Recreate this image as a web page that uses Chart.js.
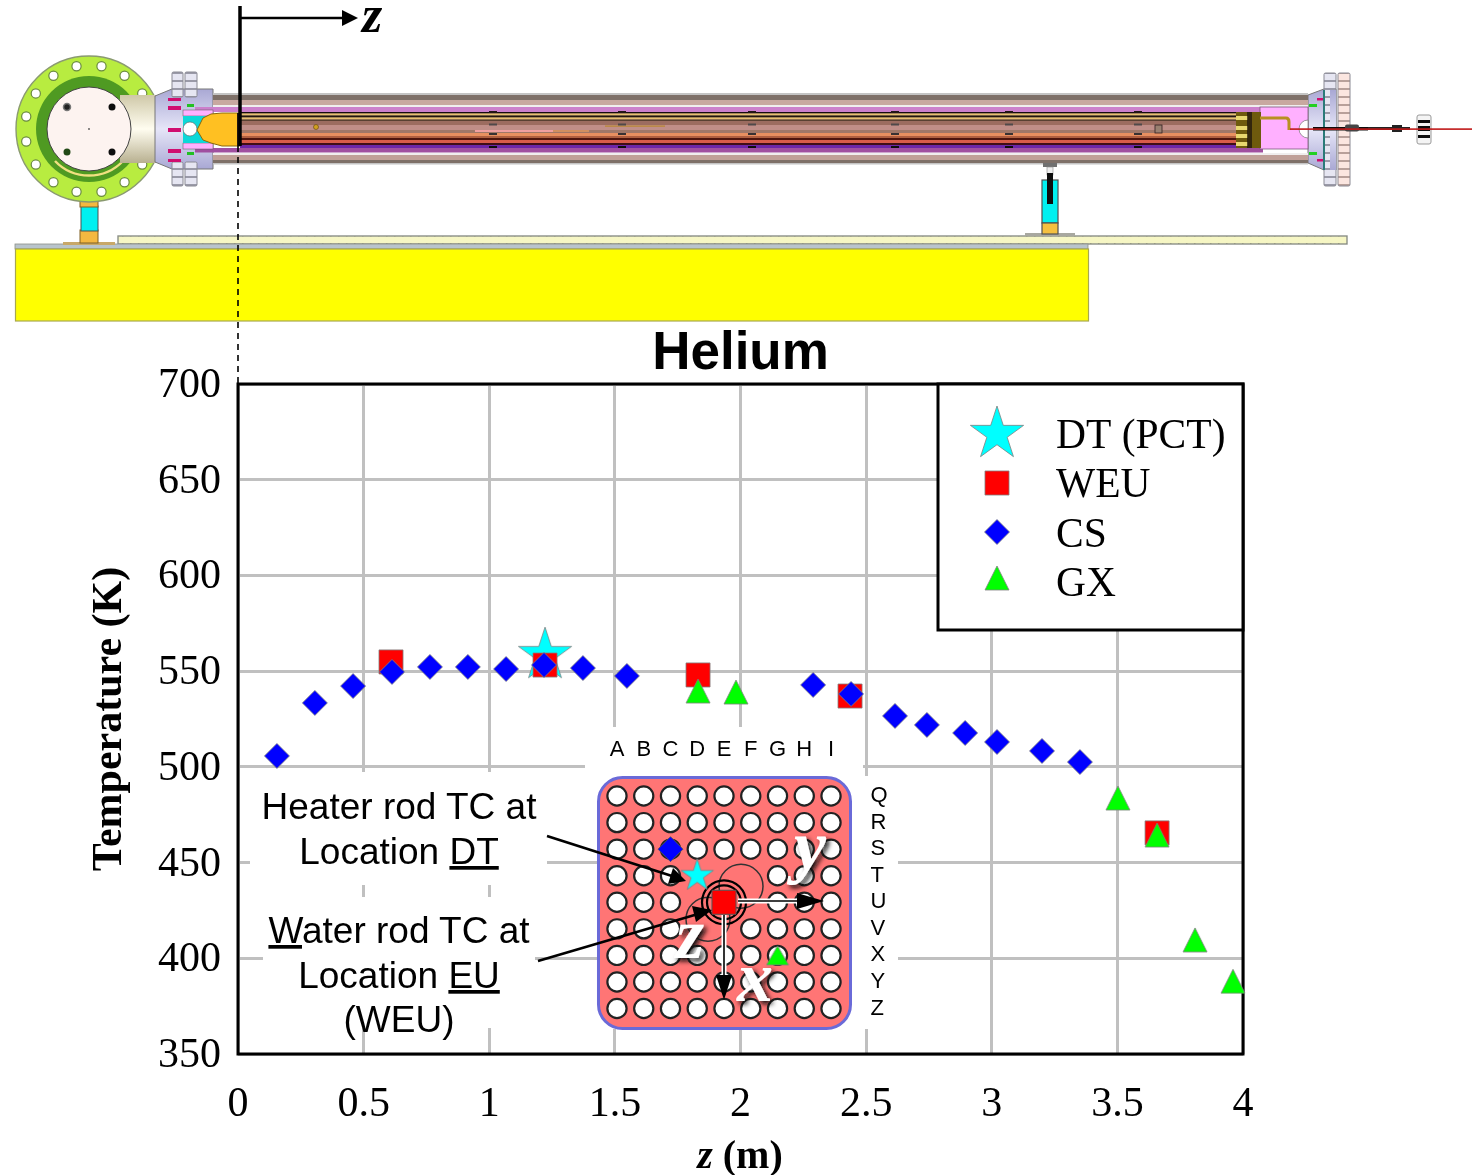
<!DOCTYPE html>
<html>
<head>
<meta charset="utf-8">
<title>Helium</title>
<script src="https://cdn.jsdelivr.net/npm/chart.js@4"></script>
<style>
  html, body { margin: 0; padding: 0; background: #fff; }
  #page { position: relative; width: 1475px; height: 1175px; overflow: hidden; }
  #page canvas, #page svg { position: absolute; display: block; }
  #mainChart { left: 0; top: 0; }
  #insetChart { left: 585px; top: 727px; }
  #overlay, #rig { left: 0; top: 0; }
</style>
</head>
<body>
<div id="page">
  <!-- facility drawing above the plot -->
  <svg id="rig" width="1475" height="384">
    <defs>
      <filter id="soft"><feGaussianBlur stdDeviation="0.45"/></filter>
      <linearGradient id="cream" x1="0" y1="0" x2="0" y2="1">
        <stop offset="0" stop-color="#cfc8a8"/><stop offset="0.5" stop-color="#fffdf0"/><stop offset="1" stop-color="#b8b090"/>
      </linearGradient>
      <linearGradient id="hub" x1="0" y1="0" x2="0" y2="1">
        <stop offset="0" stop-color="#a9a8d4"/><stop offset="0.5" stop-color="#e6e6f8"/><stop offset="1" stop-color="#a9a8d4"/>
      </linearGradient>
      <pattern id="flangeA" width="12" height="8" patternUnits="userSpaceOnUse">
        <rect width="12" height="8" fill="#e6e6f2"/><rect width="12" height="2" fill="#9a9aa8"/>
      </pattern>
      <pattern id="flangeB" width="12" height="8" patternUnits="userSpaceOnUse">
        <rect width="12" height="8" fill="#fbe6e0"/><rect width="12" height="2" fill="#b8a09a"/>
      </pattern>
      <pattern id="railDots" width="8" height="8" patternUnits="userSpaceOnUse">
        <rect width="8" height="8" fill="#f6f6c4"/><rect x="2" y="3" width="1.5" height="1.5" fill="#a8a878"/>
      </pattern>
    </defs>
    <g filter="url(#soft)">
      <!-- slab and rail -->
      <rect x="118" y="236" width="1229" height="8" fill="url(#railDots)" stroke="#8c9088" stroke-width="1.4"/>
      <rect x="15" y="244" width="1073" height="5" fill="#b9c4cc" stroke="#8c9088" stroke-width="0.8"/>
      <rect x="15.5" y="249" width="1073" height="72" fill="#ffff00" stroke="#a8a850" stroke-width="1.2"/>

      <!-- left support -->
      <rect x="63" y="242" width="52" height="3" fill="#c8a868"/>
      <rect x="80" y="230" width="18" height="13" fill="#f4b840" stroke="#806020"/>
      <rect x="81" y="206" width="17" height="25" fill="#00f0f0" stroke="#505050"/>
      <rect x="80" y="195" width="18" height="12" fill="#f4b840" stroke="#806020"/>
      <rect x="85" y="182" width="8" height="13" fill="#c89020" stroke="#403010"/>

      <!-- end flange -->
      <circle cx="89" cy="129" r="73" fill="#b8ec40" stroke="#8a9a70" stroke-width="1.4"/>
      <g id="boltHoles"></g>
      <circle cx="89" cy="129" r="53" fill="#4f9a22"/>
      <path d="M55 161 A47 47 0 0 0 123 161" fill="none" stroke="#f0e080" stroke-width="2.5"/>
      <rect x="120" y="95" width="36" height="68" fill="url(#cream)"/>
      <circle cx="89" cy="129" r="42" fill="#fdf3f0" stroke="#444" stroke-width="1"/>
      <circle cx="67" cy="107" r="3.5" fill="#222" stroke="#777" stroke-width="1.5"/>
      <circle cx="112" cy="107" r="3.5" fill="#111"/>
      <circle cx="67" cy="152" r="3.5" fill="#244a18"/>
      <circle cx="112" cy="152" r="3.5" fill="#111"/>
      <circle cx="89" cy="129" r="0.9" fill="#555"/>

      <!-- left hub -->
      <path d="M155 96 L172 89 H213 V169 H172 L155 162 Z" fill="url(#hub)" stroke="#777" stroke-width="1"/>
      <rect x="172" y="72" width="11" height="25" rx="1.5" fill="url(#flangeA)" stroke="#8a8a94"/>
      <rect x="185" y="72" width="12" height="25" rx="1.5" fill="url(#flangeA)" stroke="#8a8a94"/>
      <rect x="172" y="162" width="11" height="24" rx="1.5" fill="url(#flangeA)" stroke="#8a8a94"/>
      <rect x="185" y="162" width="12" height="24" rx="1.5" fill="url(#flangeA)" stroke="#8a8a94"/>
      <rect x="168" y="98" width="13" height="3" fill="#d01070"/>
      <rect x="168" y="106" width="13" height="4" fill="#d01070"/>
      <rect x="168" y="128" width="13" height="4" fill="#d01070"/>
      <rect x="168" y="149" width="13" height="4" fill="#d01070"/>
      <rect x="168" y="159" width="13" height="3" fill="#d01070"/>
      <rect x="187" y="104" width="7" height="3" fill="#20c020"/>
      <rect x="187" y="152" width="7" height="3" fill="#20c020"/>

      <!-- right hub -->
      <path d="M1308 95 L1324 89 H1336 V170 H1324 L1308 163 Z" fill="url(#hub)" stroke="#777" stroke-width="1"/>
      <rect x="1324" y="73" width="12" height="113" rx="1.5" fill="url(#flangeA)" stroke="#8a8a94"/>
      <rect x="1338" y="73" width="12" height="113" rx="1.5" fill="url(#flangeB)" stroke="#8a8a94"/>
      <rect x="1330" y="90" width="6" height="80" fill="url(#hub)"/>
      <rect x="1323" y="90" width="2" height="80" fill="#2a7a78"/>
      <rect x="1309" y="104" width="8" height="3" fill="#20d020"/>
      <rect x="1309" y="152" width="8" height="3" fill="#20d020"/>
      <rect x="1317" y="98" width="6" height="2.5" fill="#d01070"/>
      <rect x="1317" y="159" width="6" height="2.5" fill="#d01070"/>

      <!-- outer tube -->
      <rect x="213" y="93" width="1095" height="2" fill="#c4c4c4"/>
      <rect x="213" y="95" width="1095" height="5" fill="#7e6f68"/>
      <rect x="213" y="100" width="1095" height="5" fill="#c8a8a0"/>
      <rect x="213" y="105" width="1095" height="2" fill="#f0eeee"/>
      <rect x="213" y="153" width="1095" height="2" fill="#f0eeee"/>
      <rect x="213" y="155" width="1095" height="5" fill="#c0a098"/>
      <rect x="213" y="160" width="1095" height="3" fill="#7e6f68"/>
      <rect x="213" y="163" width="1095" height="1.5" fill="#c4c4c4"/>

      <!-- liner and rod bundle -->
      <rect x="195" y="107" width="1068" height="5" fill="#cc80cc"/>
      <rect x="195" y="148" width="1068" height="4.5" fill="#a050a0"/>
      <rect x="240" y="112" width="1000" height="36" fill="#a08078"/>
      <rect x="240" y="112" width="1000" height="1.5" fill="#181010"/>
      <rect x="240" y="113.5" width="1000" height="2" fill="#e8c070"/>
      <rect x="240" y="115.5" width="1000" height="2" fill="#201810"/>
      <rect x="240" y="117.5" width="1000" height="2" fill="#e8c070"/>
      <rect x="240" y="119.5" width="1000" height="1.5" fill="#584030"/>
      <rect x="240" y="121" width="1000" height="4" fill="#9c6c60"/>
      <rect x="240" y="125" width="1000" height="5" fill="#c08e88"/>
      <rect x="240" y="130" width="1000" height="3" fill="#a07868"/>
      <rect x="240" y="133" width="1000" height="3" fill="#e89060"/>
      <rect x="240" y="136" width="1000" height="2" fill="#b06040"/>
      <rect x="240" y="138" width="1000" height="2" fill="#501810"/>
      <rect x="240" y="140" width="1000" height="3" fill="#d85c48"/>
      <rect x="240" y="143" width="1000" height="2" fill="#401018"/>
      <rect x="240" y="145" width="1000" height="3" fill="#6c28a8"/>
      <rect x="475" y="130" width="78" height="2" fill="#f0a0a0"/>
      <rect x="553" y="130" width="36" height="2" fill="#d09060"/>
      <rect x="605" y="125.500" width="60" height="1.200" fill="#b88830"/>
      <g id="spacers"></g>

      <!-- left fitting -->
      <rect x="183" y="110" width="30" height="6" fill="#ffb0ff" stroke="#555" stroke-width="0.5"/>
      <rect x="183" y="143" width="30" height="6" fill="#ffb0ff" stroke="#555" stroke-width="0.5"/>
      <rect x="183" y="116" width="28" height="27" fill="#10d8d8"/>
      <circle cx="190" cy="129" r="7" fill="#fff" stroke="#555" stroke-width="0.6"/>
      <path d="M197 130 L203 118 L211 114 L222 113 H240 V146 H222 L211 143 L203 140 Z" fill="#ffc020" stroke="#8a6810" stroke-width="1"/>
      <rect x="237" y="113" width="3" height="33" fill="#201808"/>
      <circle cx="316" cy="127" r="2.5" fill="#d0a020" stroke="#604010" stroke-width="0.6"/>

      <!-- right fitting -->
      <rect x="1260" y="107" width="48" height="42" fill="#ffb0ff" stroke="#7a5a7a" stroke-width="0.8"/>
      <path d="M1299 129 A9 9 0 0 1 1308 120 V138 A9 9 0 0 1 1299 129" fill="#fff" stroke="#777" stroke-width="0.7"/>
      <rect x="1236" y="112" width="25" height="36" fill="#6e5a10"/>
      <rect x="1236" y="116" width="12" height="4" fill="#e8d870"/>
      <rect x="1236" y="126" width="12" height="4" fill="#e8d870"/>
      <rect x="1236" y="134" width="12" height="4" fill="#e8d870"/>
      <rect x="1236" y="142" width="12" height="4" fill="#e8d870"/>
      <rect x="1247" y="112" width="5" height="36" fill="#181008" opacity="0.7"/>
      <path d="M1260 118 H1286 Q1289 118 1289 122 V130" fill="none" stroke="#b89020" stroke-width="3"/>
      <rect x="1155" y="125" width="7" height="8" fill="#9a8070" stroke="#302020" stroke-width="0.8"/>
      <rect x="1313" y="127" width="55" height="3.5" fill="#111"/>
      <rect x="1345" y="124.500" width="14" height="7" rx="2" fill="#444"/>
      <rect x="1368" y="127" width="42" height="3" fill="#222"/>
      <rect x="1392" y="125" width="10" height="7" fill="#222"/>
      <rect x="1417" y="115" width="14" height="29" rx="2" fill="#f4f4f4" stroke="#999"/>
      <rect x="1418" y="120" width="12" height="3" fill="#111"/>
      <rect x="1418" y="126" width="12" height="5" fill="#111"/>
      <rect x="1418" y="135" width="12" height="3" fill="#111"/>
      <rect x="1290" y="128.300" width="182" height="1.600" fill="#c01818"/>

      <!-- right support -->
      <rect x="1025" y="233" width="50" height="3" fill="#a8a8a0"/>
      <rect x="1043" y="163" width="14" height="4" fill="#707070"/>
      <rect x="1047" y="167" width="6" height="8" fill="#eee" stroke="#888" stroke-width="0.6"/>
      <rect x="1042" y="180" width="16" height="43" fill="#00f0f0" stroke="#505050" stroke-width="1.2"/>
      <rect x="1042" y="223" width="16" height="11" fill="#f4c040" stroke="#505050" stroke-width="1.2"/>
      <rect x="1047" y="173" width="6" height="31" fill="#0c0c0c"/>
    </g>

    <!-- z datum -->
    <line x1="240" y1="6" x2="240" y2="146" stroke="#000" stroke-width="3.5"/>
    <line x1="240" y1="18" x2="345" y2="18" stroke="#000" stroke-width="2.5"/>
    <polygon points="342,10 358,18 342,26" fill="#000"/>
    <line x1="238" y1="146" x2="238" y2="384" stroke="#000" stroke-width="1.6" stroke-dasharray="6,5"/>
    <text x="372" y="32" text-anchor="middle" font-family="Liberation Serif" font-style="italic" font-weight="bold" font-size="52">z</text>
  </svg>

  <canvas id="mainChart" width="1475" height="1175"></canvas>
  <canvas id="insetChart" width="320" height="326"></canvas>

  <!-- callouts drawn above both charts -->
  <svg id="overlay" width="1475" height="1175">
    <defs>
      <filter id="glow" x="-40%" y="-40%" width="180%" height="180%">
        <feDropShadow dx="3" dy="3" stdDeviation="2.5" flood-color="#111" flood-opacity="1"/>
      </filter>
    </defs>
    <g font-family="Liberation Sans" font-size="37" text-anchor="middle" fill="#000">
      <text x="399" y="819">Heater rod TC at</text>
      <text x="399" y="864">Location <tspan text-decoration="underline">DT</tspan></text>
      <text x="399" y="943"><tspan text-decoration="underline">W</tspan>ater rod TC at</text>
      <text x="399" y="988">Location <tspan text-decoration="underline">EU</tspan></text>
      <text x="399" y="1032">(WEU)</text>
    </g>
    <text x="740" y="1168" text-anchor="middle" font-family="Liberation Serif" font-weight="bold" font-size="40"><tspan font-style="italic">z</tspan> (m)</text>

    <!-- leader lines into the rod map -->
    <line x1="547" y1="836" x2="672" y2="876" stroke="#000" stroke-width="2.6"/>
    <polygon points="686,881 668,884 673,868" fill="#000"/>
    <line x1="538" y1="961" x2="698" y2="914" stroke="#000" stroke-width="2.6"/>
    <polygon points="712,910 696,922 692,906" fill="#000"/>

    <!-- x and y axes on the rod map -->
    <line x1="738" y1="901" x2="800" y2="901" stroke="#fff" stroke-width="5"/>
    <line x1="738" y1="901" x2="800" y2="901" stroke="#000" stroke-width="1.6"/>
    <polygon points="797,893 824,901 797,909" fill="#000"/>
    <line x1="724" y1="915" x2="724" y2="978" stroke="#fff" stroke-width="5"/>
    <line x1="724" y1="915" x2="724" y2="978" stroke="#000" stroke-width="1.6"/>
    <polygon points="716,975 724,1000 732,975" fill="#000"/>
    <g font-family="Liberation Serif" font-style="italic" font-weight="bold" font-size="72" fill="#fff" text-anchor="middle" filter="url(#glow)">
      <text x="810" y="870">y</text>
      <text x="690" y="958">z</text>
      <text x="755" y="1001">x</text>
    </g>
  </svg>
</div>

<script>
// ************* main plot values
var csZ = [0.155, 0.306, 0.458, 0.613, 0.764, 0.915, 1.067, 1.218, 1.373, 1.548, 2.289, 2.44, 2.615, 2.742, 2.894, 3.021, 3.2, 3.351];
var csT = [505.7, 533.4, 542.2, 549.6, 552.2, 552.2, 551.1, 553.2, 551.6, 547.5, 542.8, 538.1, 526.6, 521.9, 517.7, 513, 508.3, 502.5];
var weuZ = [0.609, 1.222, 1.831, 2.436, 3.658];
var weuT = [554.8, 553.2, 548, 537, 465.5];
var gxZ = [1.831, 1.982, 3.502, 3.658, 3.809, 3.96];
var gxT = [539.6, 539.1, 483.7, 464.4, 409.6, 388];
var dtZ = [1.222];
var dtT = [558.4];

// ************* rod map categories
var rodCols = ['A', 'B', 'C', 'D', 'E', 'F', 'G', 'H', 'I'];
var rodRows = ['Q', 'R', 'S', 'T', 'U', 'V', 'X', 'Y', 'Z'];
var rodGaps = ['D-T', 'E-T', 'F-T', 'D-U', 'E-U', 'F-U', 'D-V', 'E-V'];
var heaterCell = { x: 'D', y: 'T' };
var waterCell = { x: 'E', y: 'U' };
var csCell = { x: 'C', y: 'S' };
var gxCell = { x: 'G', y: 'X' };

function toPoints(xs, ys) {
  return xs.map(function (x, i) { return { x: x, y: ys[i] }; });
}

// ************* marker shapes Chart.js does not have
function starMark(R) {
  var pad = 2, size = Math.ceil(2 * R + 2 * pad);
  var c = document.createElement('canvas');
  c.width = size; c.height = size;
  var g = c.getContext('2d');
  g.translate(size / 2, size / 2);
  g.beginPath();
  for (var i = 0; i < 10; i++) {
    var r = i % 2 ? R * 0.382 : R;
    var a = -Math.PI / 2 + i * Math.PI / 5;
    g.lineTo(r * Math.cos(a), r * Math.sin(a));
  }
  g.closePath();
  g.fillStyle = '#00ffff';
  g.fill();
  g.lineWidth = 0.8;
  g.strokeStyle = '#808080';
  g.stroke();
  return c;
}

function triangleMark(w, h) {
  var c = document.createElement('canvas');
  c.width = w + 2; c.height = h + 2;
  var g = c.getContext('2d');
  g.beginPath();
  g.moveTo(1 + w / 2, 1);
  g.lineTo(1 + w, 1 + h);
  g.lineTo(1, 1 + h);
  g.closePath();
  g.fillStyle = '#00ff00';
  g.fill();
  g.lineWidth = 0.8;
  g.strokeStyle = '#808080';
  g.stroke();
  return c;
}

var bigStar = starMark(28);
var bigTriangle = triangleMark(24, 24);

// ************* white patches under the callouts + frame
var plotDecor = {
  id: 'plotDecor',
  beforeDatasetsDraw: function (chart) {
    var ctx = chart.ctx, a = chart.chartArea;
    ctx.save();
    ctx.fillStyle = '#fff';
    ctx.fillRect(250, 772, 297, 113);
    ctx.fillRect(263, 897, 272, 131);
    ctx.fillRect(585, 727, 278, 49);
    ctx.fillRect(598, 776, 260, 253);
    ctx.fillRect(858, 776, 40, 253);
    ctx.strokeStyle = '#000';
    ctx.lineWidth = 3;
    ctx.strokeRect(a.left, a.top, a.right - a.left, a.bottom - a.top);
    ctx.restore();
  }
};

// ************* legend box in the top right corner of the plot
var legendBox = {
  id: 'legendBox',
  afterDatasetsDraw: function (chart) {
    var ctx = chart.ctx, a = chart.chartArea;
    var rowY = [437, 486, 536, 585];
    var markY = [434, 483, 532, 578];
    ctx.save();
    ctx.fillStyle = '#fff';
    ctx.fillRect(938, a.top, a.right - 938, 630 - a.top);
    ctx.strokeStyle = '#000';
    ctx.lineWidth = 3;
    ctx.strokeRect(938, a.top, a.right - 938, 630 - a.top);
    ctx.font = '41.5px "Liberation Serif"';
    ctx.textBaseline = 'middle';
    chart.data.datasets.forEach(function (d, i) {
      ctx.fillStyle = d.pointBackgroundColor;
      ctx.strokeStyle = d.pointBorderColor;
      ctx.lineWidth = d.pointBorderWidth;
      Chart.helpers.drawPoint(ctx, {
        pointStyle: d.pointStyle,
        radius: d.pointRadius,
        rotation: 0,
        borderWidth: d.pointBorderWidth
      }, 997, markY[i]);
      ctx.fillStyle = '#000';
      ctx.fillText(d.label, 1056, rowY[i]);
    });
    ctx.restore();
  }
};

var ctx = document.getElementById('mainChart').getContext('2d');
var chart = new Chart(ctx, {
  type: 'scatter',
  data: {
    datasets: [
      { label: 'DT (PCT)', data: toPoints(dtZ, dtT), pointStyle: bigStar, pointRadius: 28, order: 4,
        pointBackgroundColor: '#00ffff', pointBorderColor: '#808080', pointBorderWidth: 0.8, clip: false },
      { label: 'WEU', data: toPoints(weuZ, weuT), pointStyle: 'rect', pointRadius: 17, order: 3,
        pointBackgroundColor: '#ff0000', pointBorderColor: '#808080', pointBorderWidth: 0.8, clip: false },
      { label: 'CS', data: toPoints(csZ, csT), pointStyle: 'rectRot', pointRadius: 12.5, order: 2,
        pointBackgroundColor: '#0000ff', pointBorderColor: '#808080', pointBorderWidth: 0.8, clip: false },
      { label: 'GX', data: toPoints(gxZ, gxT), pointStyle: bigTriangle, pointRadius: 13, order: 1,
        pointBackgroundColor: '#00ff00', pointBorderColor: '#808080', pointBorderWidth: 0.8, clip: false }
    ]
  },
  options: {
    responsive: false,
    animation: false,
    layout: { padding: { top: 0, right: 232, bottom: 0, left: 0 } },
    plugins: {
      legend: { display: false },
      tooltip: { enabled: false },
      title: {
        display: true,
        text: 'Helium',
        fullSize: false,
        color: '#000',
        font: { family: 'Liberation Sans', size: 53, weight: 'bold', lineHeight: 1.1 },
        padding: { top: 325.6, bottom: 0.1 }
      }
    },
    scales: {
      x: {
        type: 'linear',
        min: 0,
        max: 4,
        afterFit: function (s) { s.height = 121; },
        ticks: { stepSize: 0.5, padding: 26, color: '#000', maxRotation: 0,
          callback: function (v) { return String(v); },
          font: { family: 'Liberation Serif', size: 42 } },
        grid: { color: '#c0c0c0', lineWidth: 3, drawTicks: false },
        border: { display: false },
        title: { display: false, text: 'z (m)' }
      },
      y: {
        type: 'linear',
        min: 350,
        max: 700,
        afterFit: function (s) { s.width = 238; },
        ticks: { stepSize: 50, padding: 17, color: '#000', labelOffset: 2,
          font: { family: 'Liberation Serif', size: 42 } },
        grid: { color: '#c0c0c0', lineWidth: 3, drawTicks: false },
        border: { display: false },
        title: { display: true, text: 'Temperature (K)', color: '#000',
          font: { family: 'Liberation Serif', size: 42, weight: 'bold' },
          padding: { top: 85, bottom: 0 } }
      }
    }
  },
  plugins: [plotDecor, legendBox]
});

// ************* rod map in the middle of the plot
var rodPoints = [];
rodRows.forEach(function (row) {
  rodCols.forEach(function (col) {
    if (rodGaps.indexOf(col + '-' + row) < 0) rodPoints.push({ x: col, y: row });
  });
});

function roundPanel(g, x, y, w, h, r) {
  g.beginPath();
  g.moveTo(x + r, y);
  g.arcTo(x + w, y, x + w, y + h, r);
  g.arcTo(x + w, y + h, x, y + h, r);
  g.arcTo(x, y + h, x, y, r);
  g.arcTo(x, y, x + w, y, r);
  g.closePath();
}

var rodMapDecor = {
  id: 'rodMapDecor',
  beforeDatasetsDraw: function (c) {
    var g = c.ctx;
    g.save();
    // panel sits 13 px outside the last band of rods
    roundPanel(g, 13.5, 50.5, 252, 251, 24);
    g.fillStyle = '#ff7575';
    g.fill();
    g.lineWidth = 3;
    g.strokeStyle = '#6a6ad8';
    g.stroke();
    g.restore();
  },
  afterDatasetDraw: function (c, args) {
    if (args.index !== 0) return;
    var g = c.ctx;
    var sx = c.scales.x, sy = c.scales.y;
    var cx = sx.getPixelForValue(4), cy = sy.getPixelForValue(4);
    g.save();
    g.strokeStyle = '#333';
    g.lineWidth = 1.5;
    g.fillStyle = '#ff7575';
    [[17, -16], [-16, 17]].forEach(function (o) {
      g.beginPath();
      g.arc(cx + o[0], cy + o[1], 22, 0, Math.PI * 2);
      g.fill();
      g.stroke();
    });
    g.strokeStyle = '#000';
    g.lineWidth = 2.2;
    [22, 17].forEach(function (r) {
      g.beginPath();
      g.arc(cx, cy, r, 0, Math.PI * 2);
      g.stroke();
    });
    g.restore();
  }
};

var inset = new Chart(document.getElementById('insetChart').getContext('2d'), {
  type: 'scatter',
  data: {
    datasets: [
      { label: 'rods', data: rodPoints, pointStyle: 'circle', pointRadius: 9.6, order: 5,
        pointBackgroundColor: '#ffffff', pointBorderColor: '#222', pointBorderWidth: 2.2, clip: false },
      { label: 'DT', data: [heaterCell], pointStyle: starMark(17), pointRadius: 17, order: 1, clip: false },
      { label: 'WEU', data: [waterCell], pointStyle: 'rect', pointRadius: 17, order: 2,
        pointBackgroundColor: '#ff0000', pointBorderColor: '#555', pointBorderWidth: 1, clip: false },
      { label: 'CS', data: [csCell], pointStyle: 'rectRot', pointRadius: 12.5, order: 3,
        pointBackgroundColor: '#0000ff', pointBorderColor: '#555', pointBorderWidth: 0.8, clip: false },
      { label: 'GX', data: [gxCell], pointStyle: triangleMark(22, 19), pointRadius: 11, order: 4, clip: false }
    ]
  },
  options: {
    responsive: false,
    animation: false,
    layout: { padding: { top: 0, right: 0, bottom: 15.5, left: 18.6 } },
    plugins: { legend: { display: false }, tooltip: { enabled: false } },
    scales: {
      x: {
        type: 'category',
        position: 'top',
        labels: rodCols,
        offset: true,
        afterFit: function (s) { s.height = 55.75; },
        ticks: { color: '#000', padding: 12, maxRotation: 0, autoSkip: false,
          font: { family: 'Liberation Sans', size: 22 } },
        grid: { display: false },
        border: { display: false }
      },
      y: {
        type: 'category',
        position: 'right',
        labels: rodRows,
        offset: true,
        afterFit: function (s) { s.width = 60.6; },
        ticks: { color: '#000', padding: 18, autoSkip: false,
          font: { family: 'Liberation Sans', size: 22 } },
        grid: { display: false },
        border: { display: false }
      }
    }
  },
  plugins: [rodMapDecor]
});

// ************* repeated bits of the facility drawing
var svgNS = 'http://www.w3.org/2000/svg';
var holes = document.getElementById('boltHoles');
for (var h = 0; h < 16; h++) {
  var ang = (h + 0.5) * Math.PI / 8;
  var hole = document.createElementNS(svgNS, 'circle');
  hole.setAttribute('cx', 89 + 64 * Math.cos(ang));
  hole.setAttribute('cy', 129 + 64 * Math.sin(ang));
  hole.setAttribute('r', 4.6);
  hole.setAttribute('fill', '#fff');
  hole.setAttribute('stroke', '#6a8a40');
  hole.setAttribute('stroke-width', '1.2');
  holes.appendChild(hole);
}
var spacerGroup = document.getElementById('spacers');
[493, 622, 752, 895, 1009, 1138].forEach(function (sx) {
  [[111, '#201818'], [123.5, '#504848'], [133, '#383030'], [146, '#100810']].forEach(function (s) {
    var bit = document.createElementNS(svgNS, 'rect');
    bit.setAttribute('x', sx - 4);
    bit.setAttribute('y', s[0]);
    bit.setAttribute('width', 8);
    bit.setAttribute('height', 2);
    bit.setAttribute('fill', s[1]);
    spacerGroup.appendChild(bit);
  });
});
</script>
</body>
</html>
